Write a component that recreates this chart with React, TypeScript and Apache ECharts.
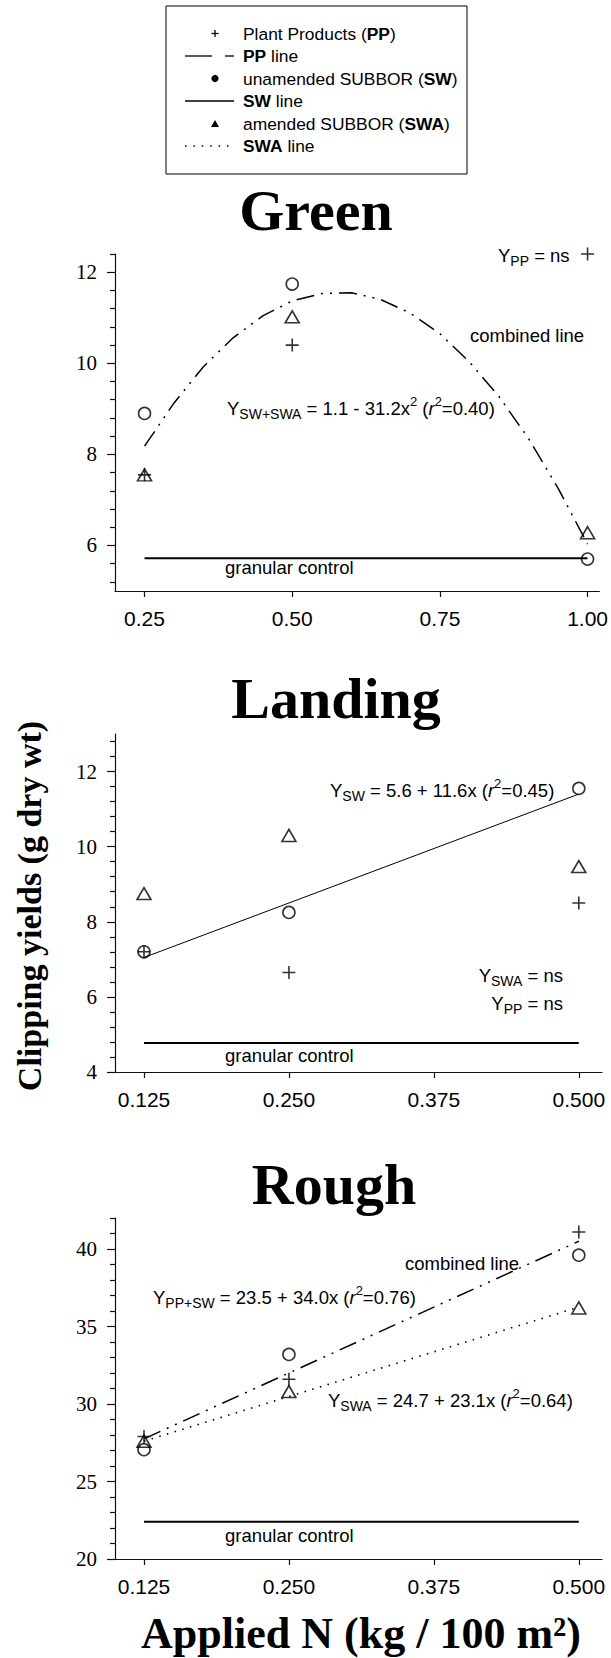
import React, { useEffect, useRef } from "react";
import * as echarts from "echarts";

// ---------- data ----------
const greenN = [0.25, 0.5, 1.0];
const greenPP = [7.55, 10.4, 12.4];
const greenSW = [8.9, 11.74, 5.7];
const greenSWA = [7.55, 11.02, 6.28];
const greenFitN = [0.25, 0.3, 0.35, 0.4, 0.45, 0.5, 0.55, 0.6, 0.65, 0.7, 0.75, 0.8, 0.85, 0.9, 0.95, 1.0];
const greenFitY = [8.18, 9.13, 9.93, 10.56, 11.04, 11.37, 11.53, 11.55, 11.4, 11.1, 10.65, 10.03, 9.27, 8.35, 7.26, 6.03];
const greenControlN = [0.25, 1.0];
const greenControlY = [5.72, 5.72];

const lowN = [0.125, 0.25, 0.5];
const fitN = [0.125, 0.5];
const landingPP = [7.2, 6.65, 8.5];
const landingSW = [7.2, 8.25, 11.55];
const landingSWA = [8.75, 10.3, 9.47];
const landingSWFit = [7.05, 11.4];
const landingControlY = [4.77, 4.77];

const roughPP = [27.9, 31.6, 41.1];
const roughSW = [27.05, 33.2, 39.6];
const roughSWA = [27.6, 30.8, 36.2];
const roughCombinedFit = [27.75, 40.5];
const roughSWAFit = [27.6, 36.25];
const roughControlY = [22.4, 22.4];

const greenXTicks = [0.25, 0.5, 0.75, 1.0];
const lowXTicks = [0.125, 0.25, 0.375, 0.5];
const greenYMajor = [6, 8, 10, 12];
const greenYMinor = [5.2, 5.6, 6.4, 6.8, 7.2, 7.6, 8.4, 8.8, 9.2, 9.6, 10.4, 10.8, 11.2, 11.6, 12.4];
const landingYMajor = [4, 6, 8, 10, 12];
const landingYMinor = [4.4, 4.8, 5.2, 5.6, 6.4, 6.8, 7.2, 7.6, 8.4, 8.8, 9.2, 9.6, 10.4, 10.8, 11.2, 11.6, 12.4, 12.8];
const roughYMajor = [20, 25, 30, 35, 40];
const roughYMinor = [21, 22, 23, 24, 26, 27, 28, 29, 31, 32, 33, 34, 36, 37, 38, 39, 41, 42];

// ---------- styling ----------
const SANS = '"Liberation Sans", Arial, sans-serif';
const SERIF = '"Liberation Serif", "Times New Roman", serif';
const NB = "\u00A0";
const plusPath = "path://M5.7,0H7.3V5.7H13V7.3H7.3V13H5.7V7.3H0V5.7H5.7Z";
const dashDotDot = [18, 7, 2, 7, 2, 7];
const dotted = [1.5, 6.5];

const pts = (xs: number[], ys: number[]) => xs.map((x, i) => [x, ys[i]]);

const eqRich = {
  m: { fontSize: 18.5, fontFamily: SANS, lineHeight: 26, verticalAlign: "middle", fill: "#000" },
  i: { fontSize: 18.5, fontFamily: SANS, fontStyle: "italic", lineHeight: 26, verticalAlign: "middle", fill: "#000" },
  s: { fontSize: 14, fontFamily: SANS, lineHeight: 13, verticalAlign: "bottom", fill: "#000" },
  p: { fontSize: 13, fontFamily: SANS, lineHeight: 12, verticalAlign: "top", fill: "#000" },
};

const LEG_FS = 17.4;
const legRich = {
  n: { fontSize: LEG_FS, fontFamily: SANS, fill: "#000" },
  b: { fontSize: LEG_FS, fontFamily: SANS, fontWeight: "bold", fill: "#000" },
};

function eqText(text: string, x: number, y: number, align: string = "left") {
  return {
    type: "text",
    silent: true,
    style: {
      text,
      x,
      y,
      align,
      textAlign: align,
      verticalAlign: "middle",
      textVerticalAlign: "middle",
      fill: "#000",
      fontSize: 18.5,
      fontFamily: SANS,
      rich: eqRich,
    },
  };
}

function plainText(text: string, x: number, y: number, size: number, family: string, weight = "normal", align = "left") {
  return {
    type: "text",
    silent: true,
    style: {
      text,
      x,
      y,
      align,
      textAlign: align,
      verticalAlign: "middle",
      textVerticalAlign: "middle",
      fill: "#000",
      fontSize: size,
      fontFamily: family,
      fontWeight: weight,
    },
  };
}

function legText(text: string, y: number) {
  return {
    type: "text",
    silent: true,
    style: {
      text,
      x: 243,
      y,
      align: "left",
      textAlign: "left",
      verticalAlign: "middle",
      textVerticalAlign: "middle",
      fill: "#000",
      fontSize: LEG_FS,
      fontFamily: SANS,
      rich: legRich,
    },
  };
}

const axisLineStyle = { color: "#111", width: 1.2 };

function xAxis(g: number, min: number, max: number, ticks: number[], digits: number) {
  return {
    type: "value",
    gridIndex: g,
    min,
    max,
    axisLine: { show: true, onZero: false, lineStyle: axisLineStyle },
    axisTick: { show: true, length: 6, customValues: ticks, lineStyle: axisLineStyle },
    axisLabel: {
      show: true,
      customValues: ticks,
      formatter: (v: number) => v.toFixed(digits),
      fontFamily: SANS,
      fontSize: 21,
      color: "#000",
      margin: 17,
    },
    splitLine: { show: false },
  };
}

function yAxes(g: number, min: number, max: number, major: number[], minor: number[]) {
  return [
    {
      type: "value",
      gridIndex: g,
      position: "left",
      min,
      max,
      axisLine: { show: true, onZero: false, lineStyle: axisLineStyle },
      axisTick: { show: true, length: 8, customValues: major, lineStyle: axisLineStyle },
      axisLabel: {
        show: true,
        customValues: major,
        formatter: (v: number) => String(v),
        fontFamily: SERIF,
        fontSize: 21,
        color: "#000",
        margin: 18,
      },
      splitLine: { show: false },
    },
    {
      type: "value",
      gridIndex: g,
      position: "left",
      offset: 0,
      min,
      max,
      axisLine: { show: false, onZero: false },
      axisTick: { show: true, length: 5, customValues: minor, lineStyle: axisLineStyle },
      axisLabel: { show: false },
      splitLine: { show: false },
    },
  ];
}

function scatterSet(g: number, xs: number[], pp: number[], sw: number[], swa: number[]) {
  const base = { type: "scatter", xAxisIndex: g, yAxisIndex: 2 * g, silent: true, z: 5 };
  return [
    {
      ...base,
      name: "SW",
      data: pts(xs, sw),
      symbol: "circle",
      symbolSize: 12,
      itemStyle: { color: "rgba(0,0,0,0)", borderColor: "#000", borderWidth: 1.6 },
    },
    {
      ...base,
      name: "SWA",
      data: pts(xs, swa),
      symbol: "triangle",
      symbolSize: [14, 12],
      itemStyle: { color: "rgba(0,0,0,0)", borderColor: "#000", borderWidth: 1.6 },
    },
    {
      ...base,
      name: "PP",
      data: pts(xs, pp),
      symbol: plusPath,
      symbolSize: 13,
      itemStyle: { color: "#000", borderWidth: 0 },
    },
  ];
}

function lineSeries(g: number, xs: number[], ys: number[], width: number, type: any) {
  return {
    type: "line",
    xAxisIndex: g,
    yAxisIndex: 2 * g,
    data: pts(xs, ys),
    symbol: "none",
    silent: true,
    z: 3,
    lineStyle: { color: "#000", width, type, cap: "butt" },
  };
}

export default function App() {
  const ref = useRef<HTMLDivElement>(null);

  useEffect(() => {
    if (!ref.current) return;
    const chart = echarts.init(ref.current, undefined, { renderer: "svg" });

    const SX = 215; // legend symbol centre
    const graphic: any[] = [
      // legend box
      {
        type: "rect",
        silent: true,
        shape: { x: 166, y: 6, width: 301, height: 168 },
        style: { fill: "none", stroke: "#000", lineWidth: 1 },
      },
      { type: "line", silent: true, shape: { x1: SX - 3.5, y1: 33.5, x2: SX + 3.5, y2: 33.5 }, style: { stroke: "#000", lineWidth: 1.3 } },
      { type: "line", silent: true, shape: { x1: SX, y1: 30, x2: SX, y2: 37 }, style: { stroke: "#000", lineWidth: 1.3 } },
      { type: "line", silent: true, shape: { x1: 185, y1: 56, x2: 212, y2: 56 }, style: { stroke: "#000", lineWidth: 1.3 } },
      { type: "line", silent: true, shape: { x1: 225, y1: 56, x2: 234, y2: 56 }, style: { stroke: "#000", lineWidth: 1.3 } },
      { type: "circle", silent: true, shape: { cx: SX, cy: 78.5, r: 3.6 }, style: { fill: "#000" } },
      { type: "line", silent: true, shape: { x1: 185, y1: 101, x2: 234, y2: 101 }, style: { stroke: "#000", lineWidth: 1.3 } },
      {
        type: "polygon",
        silent: true,
        shape: { points: [[SX - 4, 127], [SX + 4, 127], [SX, 120]] },
        style: { fill: "#000" },
      },
      {
        type: "line",
        silent: true,
        shape: { x1: 185, y1: 146, x2: 229, y2: 146 },
        style: { stroke: "#000", lineWidth: 1.5, lineDash: [1.5, 6.9] },
      },
      legText("{n|Plant Products (}{b|PP}{n|)}", 33.5),
      legText("{b|PP}{n|" + NB + "line}", 56),
      legText("{n|unamended SUBBOR (}{b|SW}{n|)}", 78.5),
      legText("{b|SW}{n|" + NB + "line}", 101),
      legText("{n|amended SUBBOR (}{b|SWA}{n|)}", 123.5),
      legText("{b|SWA}{n|" + NB + "line}", 146),

      // panel titles
      plainText("Green", 316, 210, 58, SERIF, "bold", "center"),
      plainText("Landing", 336, 698, 58, SERIF, "bold", "center"),
      plainText("Rough", 334, 1184, 58, SERIF, "bold", "center"),

      // axis titles
      {
        type: "text",
        silent: true,
        x: 29,
        y: 906,
        rotation: Math.PI / 2,
        style: {
          text: "Clipping yields (g dry wt)",
          x: 0,
          y: 0,
          align: "center",
          textAlign: "center",
          verticalAlign: "middle",
          textVerticalAlign: "middle",
          fill: "#000",
          fontSize: 34,
          fontFamily: SERIF,
          fontWeight: "bold",
        },
      },
      plainText("Applied N (kg / 100 m²)", 361, 1633, 44, SERIF, "bold", "center"),

      // Green annotations
      eqText("{m|Y}{s|PP}{m|" + NB + "= ns}", 498, 255),
      plainText("combined line", 470, 335, 18.5, SANS),
      eqText("{m|Y}{s|SW+SWA}{m|" + NB + "= 1.1 - 31.2x}{p|2}{m|" + NB + "(}{i|r}{p|2}{m|=0.40)}", 227, 408),
      plainText("granular control", 225, 567, 18.5, SANS),

      // Landing annotations
      eqText("{m|Y}{s|SW}{m|" + NB + "= 5.6 + 11.6x (}{i|r}{p|2}{m|=0.45)}", 330, 790),
      eqText("{m|Y}{s|SWA}{m|" + NB + "= ns}", 563, 975, "right"),
      eqText("{m|Y}{s|PP}{m|" + NB + "= ns}", 563, 1003, "right"),
      plainText("granular control", 225, 1055, 18.5, SANS),

      // Rough annotations
      plainText("combined line", 405, 1263, 18.5, SANS),
      eqText("{m|Y}{s|PP+SW}{m|" + NB + "= 23.5 + 34.0x (}{i|r}{p|2}{m|=0.76)}", 153, 1297),
      eqText("{m|Y}{s|SWA}{m|" + NB + "= 24.7 + 23.1x (}{i|r}{p|2}{m|=0.64)}", 328, 1400),
      plainText("granular control", 225, 1535, 18.5, SANS),
    ];

    const option: any = {
      animation: false,
      backgroundColor: "#fff",
      grid: [
        { left: 115, top: 254, width: 487, height: 337 },
        { left: 115, top: 734, width: 487, height: 338 },
        { left: 115, top: 1218, width: 487, height: 341 },
      ],
      xAxis: [
        xAxis(0, 0.2, 1.02, greenXTicks, 2),
        xAxis(1, 0.1, 0.52, lowXTicks, 3),
        xAxis(2, 0.1, 0.52, lowXTicks, 3),
      ],
      yAxis: [
        ...yAxes(0, 5, 12.4, greenYMajor, greenYMinor),
        ...yAxes(1, 4, 13, landingYMajor, landingYMinor),
        ...yAxes(2, 20, 42, roughYMajor, roughYMinor),
      ],
      series: [
        lineSeries(0, greenControlN, greenControlY, 2, "solid"),
        lineSeries(0, greenFitN, greenFitY, 1.5, dashDotDot),
        ...scatterSet(0, greenN, greenPP, greenSW, greenSWA),

        lineSeries(1, fitN, landingControlY, 2, "solid"),
        lineSeries(1, fitN, landingSWFit, 1, "solid"),
        ...scatterSet(1, lowN, landingPP, landingSW, landingSWA),

        lineSeries(2, fitN, roughControlY, 2, "solid"),
        lineSeries(2, fitN, roughCombinedFit, 1.5, dashDotDot),
        lineSeries(2, fitN, roughSWAFit, 1.6, dotted),
        ...scatterSet(2, lowN, roughPP, roughSW, roughSWA),
      ],
      graphic,
    };

    chart.setOption(option);
    return () => chart.dispose();
  }, []);

  return (
    <div
      ref={ref}
      style={{ position: "absolute", left: 0, top: 0, width: 611, height: 1658, background: "#fff" }}
    />
  );
}
